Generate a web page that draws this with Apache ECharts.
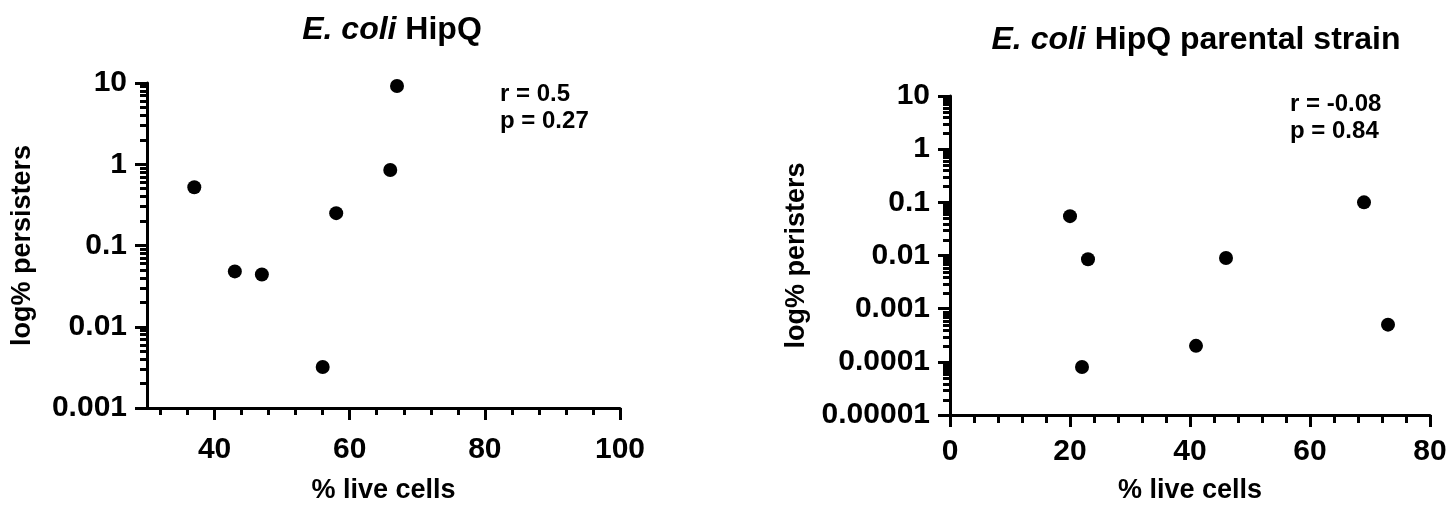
<!DOCTYPE html>
<html>
<head>
<meta charset="utf-8">
<style>
html,body{margin:0;padding:0;background:#fff;}
#chart{width:1453px;height:509px;}
</style>
<script src="https://cdn.jsdelivr.net/npm/echarts@6/dist/echarts.min.js"></script>
</head>
<body>
<div id="chart"></div>
<script>
// ---- Data ----
const leftTitleItalic = 'E. coli';
const leftTitleRest = ' HipQ';
const rightTitleRest = ' HipQ parental strain';
const xAxisName = '% live cells';
const leftYName = 'log% persisters';
const rightYName = 'log% peristers';

const leftX = [37, 43, 47, 56, 58, 66, 67];
const leftY = [0.52, 0.048, 0.044, 0.0032, 0.25, 0.85, 9.2];
const rightX = [20, 23, 22, 41, 46, 69, 73];
const rightY = [0.055, 0.0085, 0.00008, 0.0002, 0.009, 0.1, 0.0005];

const leftXTicks = [40, 60, 80, 100];
const leftXMinor = [32, 36, 44, 48, 52, 56, 64, 68, 72, 76, 84, 88, 92, 96];
const rightXTicks = [0, 20, 40, 60, 80];
const rightXMinor = [4, 8, 12, 16, 24, 28, 32, 36, 44, 48, 52, 56, 64, 68, 72, 76];

const leftYTicks = [0.001, 0.01, 0.1, 1, 10];
const leftYLabels = ['0.001', '0.01', '0.1', '1', '10'];
const rightYTicks = [0.00001, 0.0001, 0.001, 0.01, 0.1, 1, 10];
const rightYLabels = ['0.00001', '0.0001', '0.001', '0.01', '0.1', '1', '10'];
const minorMultipliers = [2, 3, 4, 5, 6, 7, 8, 9];

const leftStats = ['r = 0.5', 'p = 0.27'];
const rightStats = ['r = -0.08', 'p = 0.84'];

// ---- Build ----
function minorLog(ticks) {
  const out = [];
  for (let i = 0; i < ticks.length - 1; i++) {
    minorMultipliers.forEach(m => out.push(+(ticks[i] * m).toPrecision(3)));
  }
  return out;
}
function labelFor(ticks, labels) {
  return function (v) {
    let best = 0, bd = Infinity;
    ticks.forEach((t, i) => { const d = Math.abs(Math.log10(v) - Math.log10(t)); if (d < bd) { bd = d; best = i; } });
    return bd < 0.01 ? labels[best] : '';
  };
}

const FONT = '"Liberation Sans", Arial, sans-serif';
const LW = 3;
const black = '#000';
const TICK_FS = 30;
const NAME_FS = 27;

const grids = [
  { left: 147, top: 83, width: 473, height: 325 },
  { left: 147, top: 83, width: 473, height: 325 },
  { left: 950, top: 96, width: 480, height: 320 },
  { left: 950, top: 96, width: 480, height: 320 }
];

function xMain(gi, min, max, ticks, labelMargin, nameGap) {
  return {
    type: 'value', gridIndex: gi, min: min, max: max,
    name: xAxisName, nameLocation: 'middle', nameGap: nameGap,
    nameTextStyle: { fontFamily: FONT, fontWeight: 'bold', fontSize: NAME_FS, color: black },
    axisLine: { show: true, onZero: false, lineStyle: { color: black, width: LW } },
    axisTick: { show: true, customValues: ticks, length: 12, lineStyle: { color: black, width: LW } },
    axisLabel: { show: true, customValues: ticks, margin: labelMargin, fontFamily: FONT, fontWeight: 'bold', fontSize: TICK_FS, color: black },
    splitLine: { show: false }
  };
}
function xMinor(gi, min, max, ticks) {
  return {
    type: 'value', gridIndex: gi, min: min, max: max,
    axisLine: { show: false, onZero: false },
    axisTick: { show: true, customValues: ticks, length: 7, lineStyle: { color: black, width: LW } },
    axisLabel: { show: false },
    splitLine: { show: false }
  };
}
function yMain(gi, ticks, labels, name, gap) {
  return {
    type: 'log', logBase: 10, gridIndex: gi, min: ticks[0], max: ticks[ticks.length - 1],
    name: name, nameLocation: 'middle', nameGap: gap, nameRotate: 90,
    nameTextStyle: { fontFamily: FONT, fontWeight: 'bold', fontSize: NAME_FS, color: black },
    axisLine: { show: true, onZero: false, lineStyle: { color: black, width: LW } },
    axisTick: { show: true, customValues: ticks, length: 12, lineStyle: { color: black, width: LW } },
    axisLabel: { show: true, customValues: ticks, margin: 20, formatter: labelFor(ticks, labels),
      fontFamily: FONT, fontWeight: 'bold', fontSize: TICK_FS, color: black },
    splitLine: { show: false }
  };
}
function yMinor(gi, ticks) {
  return {
    type: 'log', logBase: 10, gridIndex: gi, min: ticks[0], max: ticks[ticks.length - 1],
    axisLine: { show: false, onZero: false },
    axisTick: { show: true, customValues: minorLog(ticks), length: 7, lineStyle: { color: black, width: LW } },
    axisLabel: { show: false },
    splitLine: { show: false }
  };
}

function pairs(xs, ys) { return xs.map((x, i) => [x, ys[i]]); }

const titleStyle = {
  rich: {
    it: { fontFamily: FONT, fontWeight: 'bold', fontStyle: 'italic', fontSize: 32, color: black },
    rg: { fontFamily: FONT, fontWeight: 'bold', fontSize: 32, color: black }
  }
};

const statStyle = { lineHeight: 27, fontFamily: FONT, fontWeight: 'bold', fontSize: 24, fill: black };

const option = {
  backgroundColor: '#fff',
  animation: false,
  title: [
    { text: '{it|' + leftTitleItalic + '}{rg|' + leftTitleRest + '}', left: 387, top: 9, textAlign: 'center', textStyle: titleStyle },
    { text: '{it|' + leftTitleItalic + '}{rg|' + rightTitleRest + '}', left: 1191, top: 19, textAlign: 'center', textStyle: titleStyle }
  ],
  grid: grids,
  xAxis: [
    xMain(0, 30, 100, leftXTicks, 27, 69),
    xMinor(1, 30, 100, leftXMinor),
    xMain(2, 0, 80, rightXTicks, 22, 62),
    xMinor(3, 0, 80, rightXMinor)
  ],
  yAxis: [
    yMain(0, leftYTicks, leftYLabels, leftYName, 111),
    yMinor(1, leftYTicks),
    yMain(2, rightYTicks, rightYLabels, rightYName, 140),
    yMinor(3, rightYTicks)
  ],
  graphic: [
    { type: 'text', left: 500, top: 81, style: Object.assign({ text: leftStats.join('\n') }, statStyle) },
    { type: 'text', left: 1290, top: 91, style: Object.assign({ text: rightStats.join('\n') }, statStyle) }
  ],
  series: [
    { type: 'scatter', xAxisIndex: 0, yAxisIndex: 0, data: pairs(leftX, leftY), symbol: 'circle', symbolSize: 14, itemStyle: { color: black, opacity: 1 } },
    { type: 'scatter', xAxisIndex: 2, yAxisIndex: 2, data: pairs(rightX, rightY), symbol: 'circle', symbolSize: 14, itemStyle: { color: black, opacity: 1 } }
  ]
};

const chart = echarts.init(document.getElementById('chart'), null, { renderer: 'canvas' });
chart.setOption(option);
</script>
</body>
</html>
